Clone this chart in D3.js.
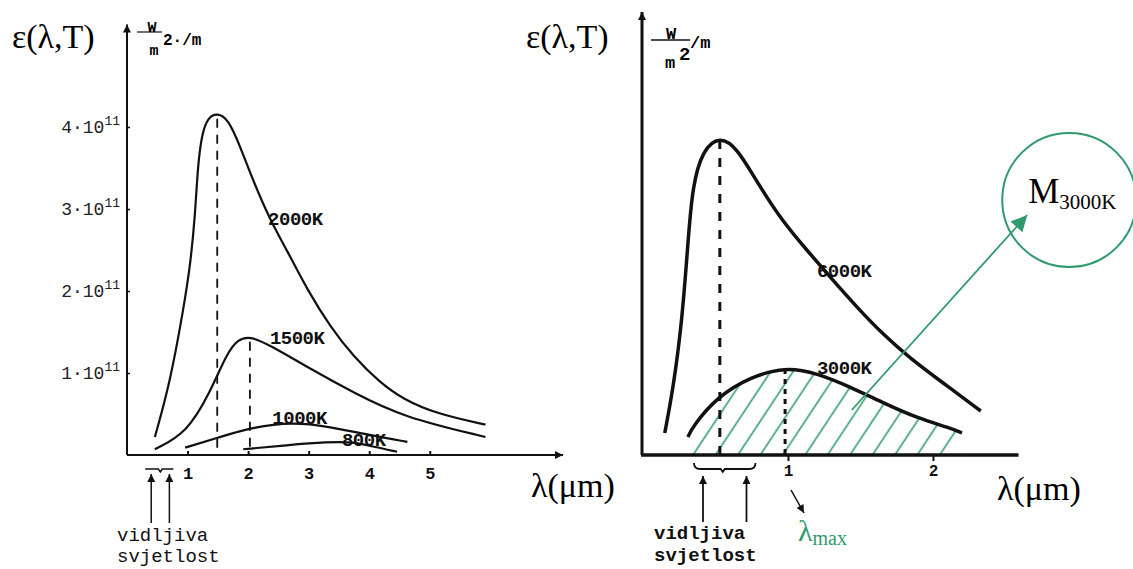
<!DOCTYPE html>
<html>
<head>
<meta charset="utf-8">
<script src="https://cdn.jsdelivr.net/npm/d3@7"></script>
<style>
  body { margin: 0; background: #fff; }
  svg { display: block; }
  .mono { font-family: "Liberation Mono", "Courier New", monospace; }
  .serif { font-family: "Liberation Serif", "Times New Roman", serif; }
</style>
</head>
<body>
<svg id="chart" width="1133" height="569"></svg>
<script>
/* Left panel: wavelength in um, exitance in 1e11 W/m^2/m */
const curve2000 = [[0.46,0.22],[0.71,0.88],[0.93,1.77],[1.04,2.29],[1.12,2.87],[1.17,3.54],[1.24,3.93],
    [1.34,4.12],[1.49,4.17],[1.67,4.10],[1.87,3.76],[2.08,3.35],[2.36,2.87],[2.64,2.50],[2.98,2.01],
    [3.36,1.56],[3.74,1.20],[4.18,0.88],[4.56,0.68],[5.12,0.50],[5.92,0.37]];
const curve1500 = [[0.46,0.07],[0.99,0.27],[1.37,0.76],[1.65,1.24],[1.83,1.41],[2.03,1.45],[2.36,1.34],
    [2.98,1.07],[3.74,0.76],[4.56,0.46],[5.92,0.22]];
const curve1000 = [[0.96,0.09],[1.54,0.22],[2.08,0.34],[2.74,0.40],[3.31,0.35],[4.02,0.24],[4.63,0.16]];
const curve800 = [[1.92,0.07],[2.64,0.12],[3.31,0.16],[3.74,0.16],[4.07,0.10],[4.46,0.04]];
const peaksLeft = [[1.49,4.15],[2.03,1.43]];
const yTicksLeft = [1, 2, 3, 4];
const xTicksLeft = [1, 2, 3, 4, 5];

/* Right panel: wavelength in um, relative exitance */
const curve6000 = [[0.15,0.22],[0.21,0.68],[0.27,1.35],[0.31,2.12],[0.34,2.68],[0.41,3.05],[0.53,3.19],
    [0.65,3.07],[0.79,2.72],[0.97,2.32],[1.13,2.05],[1.29,1.78],[1.48,1.47],[1.66,1.20],[1.84,0.97],
    [2.07,0.72],[2.33,0.44]];
const curve3000 = [[0.31,0.18],[0.34,0.28],[0.51,0.58],[0.74,0.78],[0.98,0.88],[1.20,0.82],[1.43,0.68],
    [1.66,0.52],[1.89,0.37],[2.12,0.27],[2.20,0.22]];
const peak6000 = [0.53, 3.17];
const peak3000 = [0.98, 0.87];
const xTicksRight = [1, 2];

const visible = [0.4, 0.7];
const green = "#2f9a6b";

const svg = d3.select("#chart");
const defs = svg.append("defs");

function marker(id, color, w, h) {
    defs.append("marker")
        .attr("id", id)
        .attr("viewBox", "0 0 10 10")
        .attr("refX", 10).attr("refY", 5)
        .attr("markerUnits", "userSpaceOnUse")
        .attr("markerWidth", w).attr("markerHeight", h)
        .attr("orient", "auto")
      .append("path")
        .attr("d", "M0,0L10,5L0,10z")
        .attr("fill", color);
}
marker("arrowK", "#111", 11, 8);
marker("arrowG", green, 19, 16);

/**************************************************************************************************/
/* Left panel */
const xL = d3.scaleLinear().domain([0, 7.2]).range([127, 563]);
const yL = d3.scaleLinear().domain([0, 5.25]).range([455, 24.5]);
const lineL = d3.line().x(d => xL(d[0])).y(d => yL(d[1])).curve(d3.curveBasis);

const left = svg.append("g");

left.append("line")
    .attr("x1", xL(0)).attr("y1", yL(0)).attr("x2", xL(0)).attr("y2", yL(5.25))
    .attr("stroke", "#111").attr("stroke-width", 2).attr("marker-end", "url(#arrowK)");
left.append("line")
    .attr("x1", xL(0)).attr("y1", yL(0)).attr("x2", xL(7.2)).attr("y2", yL(0))
    .attr("stroke", "#111").attr("stroke-width", 2).attr("marker-end", "url(#arrowK)");

const yAxisL = left.append("g")
    .attr("transform", `translate(${xL(0)},0)`)
    .call(d3.axisLeft(yL).tickValues(yTicksLeft).tickSize(-3).tickPadding(7).tickSizeOuter(0));
yAxisL.select(".domain").remove();
yAxisL.selectAll("line").attr("stroke", "#111").attr("stroke-width", 1.5);
yAxisL.selectAll("text").each(function(d) {
    const t = d3.select(this).attr("class", "mono").attr("font-size", 18).attr("fill", "#222").text("");
    t.append("tspan").text(d + "\u00b710");
    t.append("tspan").attr("font-size", 13).attr("dy", -8).text("11");
});

const xAxisL = left.append("g")
    .attr("transform", `translate(0,${yL(0)})`)
    .call(d3.axisBottom(xL).tickValues(xTicksLeft).tickSize(-4).tickPadding(12).tickSizeOuter(0));
xAxisL.select(".domain").remove();
xAxisL.selectAll("line").attr("stroke", "#111").attr("stroke-width", 2);
xAxisL.selectAll("text").attr("class", "mono").attr("font-size", 17).attr("font-weight", "bold").attr("fill", "#111");

[curve2000, curve1500, curve1000, curve800].forEach(c => {
    left.append("path").attr("d", lineL(c))
        .attr("fill", "none").attr("stroke", "#111").attr("stroke-width", 2.2);
});

left.selectAll(".peak")
    .data(peaksLeft)
    .join("line")
        .attr("x1", d => xL(d[0])).attr("x2", d => xL(d[0]))
        .attr("y1", d => yL(d[1]) + 4).attr("y2", yL(0))
        .attr("stroke", "#111").attr("stroke-width", 1.8).attr("stroke-dasharray", "9,7");

const labelsLeft = [["2000K", 2.33, 2.80], ["1500K", 2.36, 1.35], ["1000K", 2.40, 0.38], ["800K", 3.55, 0.11]];
left.selectAll(".lbl")
    .data(labelsLeft)
    .join("text")
        .attr("class", "mono")
        .attr("x", d => xL(d[1])).attr("y", d => yL(d[2]))
        .attr("font-size", 19).attr("font-weight", "bold").attr("fill", "#111")
        .attr("letter-spacing", -0.5)
        .text(d => d[0]);

left.append("text").attr("class", "serif").attr("x", 12).attr("y", 48)
    .attr("font-size", 34).attr("fill", "#000").text("\u03b5(\u03bb,T)");
left.append("text").attr("class", "serif").attr("x", 531).attr("y", 497)
    .attr("font-size", 34).attr("fill", "#000").text("\u03bb(\u03bcm)");

// unit W/m^2/m
left.append("line").attr("x1", 137).attr("x2", 162).attr("y1", 32).attr("y2", 32).attr("stroke", "#111").attr("stroke-width", 1.2);
left.append("text").attr("class", "mono").attr("x", 152).attr("y", 32).attr("text-anchor", "middle")
    .attr("font-size", 15).attr("font-weight", "bold").text("W");
left.append("text").attr("class", "mono").attr("x", 154).attr("y", 55).attr("text-anchor", "middle")
    .attr("font-size", 15).attr("font-weight", "bold").text("m");
left.append("text").attr("class", "mono").attr("x", 163).attr("y", 45)
    .attr("font-size", 16).attr("font-weight", "bold").text("2\u00b7/m");

// visible light bracket
left.append("path")
    .attr("d", `M${xL(visible[0]) - 6},${yL(0) + 14}L${(xL(visible[0]) + xL(visible[1])) / 2 - 2},${yL(0) + 14}` +
        `l2,3l2,-3L${xL(visible[1]) + 4},${yL(0) + 14}`)
    .attr("fill", "none").attr("stroke", "#111").attr("stroke-width", 1.5);
left.selectAll(".vis")
    .data(visible)
    .join("line")
        .attr("x1", d => xL(d)).attr("x2", d => xL(d))
        .attr("y1", yL(0) + 68).attr("y2", yL(0) + 19)
        .attr("stroke", "#111").attr("stroke-width", 1.5).attr("marker-end", "url(#arrowK)");
left.append("text").attr("class", "mono").attr("x", 117).attr("y", 541)
    .attr("font-size", 19).attr("fill", "#111").text("vidljiva");
left.append("text").attr("class", "mono").attr("x", 117).attr("y", 562)
    .attr("font-size", 19).attr("fill", "#111").text("svjetlost");

/**************************************************************************************************/
/* Right panel */
const xR = d3.scaleLinear().domain([0, 2.59]).range([643, 1018.5]);
const yR = d3.scaleLinear().domain([0, 4.43]).range([455, 12]);
const lineR = d3.line().x(d => xR(d[0])).y(d => yR(d[1])).curve(d3.curveBasis);
const areaR = d3.area().x(d => xR(d[0])).y0(yR(0)).y1(d => yR(d[1])).curve(d3.curveBasis);

const right = svg.append("g");

// hatch pattern: lines through the axis every 22.4 px, slope ~56.5 deg
const hw = 18.7;
const hatch = defs.append("pattern")
    .attr("id", "hatch")
    .attr("patternUnits", "userSpaceOnUse")
    .attr("width", hw).attr("height", 20)
    .attr("patternTransform", `translate(${xR(0.345)},${yR(0)}) rotate(33.5) translate(${-hw / 2},0)`);
hatch.append("line")
    .attr("x1", hw / 2).attr("x2", hw / 2).attr("y1", -1).attr("y2", 21)
    .attr("stroke", green).attr("stroke-width", 1.6);

right.append("path").attr("d", areaR(curve3000)).attr("fill", "url(#hatch)");

right.append("line")
    .attr("x1", xR(0) - 1).attr("y1", yR(0)).attr("x2", xR(0) - 1).attr("y2", yR(4.43))
    .attr("stroke", "#111").attr("stroke-width", 3).attr("marker-end", "url(#arrowK)");
right.append("line")
    .attr("x1", xR(0) - 2).attr("y1", yR(0)).attr("x2", xR(2.59)).attr("y2", yR(0))
    .attr("stroke", "#111").attr("stroke-width", 3.5);

const xAxisR = right.append("g")
    .attr("transform", `translate(0,${yR(0)})`)
    .call(d3.axisBottom(xR).tickValues(xTicksRight).tickFormat(d3.format("d"))
        .tickSize(6).tickPadding(4).tickSizeOuter(0));
xAxisR.select(".domain").remove();
xAxisR.selectAll("line").attr("stroke", "#111").attr("stroke-width", 2);
xAxisR.selectAll("text").attr("class", "mono").attr("font-size", 16).attr("font-weight", "bold").attr("fill", "#111");

[curve6000, curve3000].forEach(c => {
    right.append("path").attr("d", lineR(c))
        .attr("fill", "none").attr("stroke", "#111").attr("stroke-width", 3.5);
});

right.append("line")
    .attr("x1", xR(peak6000[0])).attr("x2", xR(peak6000[0]))
    .attr("y1", yR(peak6000[1]) + 2).attr("y2", yR(0))
    .attr("stroke", "#111").attr("stroke-width", 3).attr("stroke-dasharray", "9,9");
right.append("line")
    .attr("x1", xR(peak3000[0])).attr("x2", xR(peak3000[0]))
    .attr("y1", yR(peak3000[1]) + 1).attr("y2", yR(0))
    .attr("stroke", "#111").attr("stroke-width", 3).attr("stroke-dasharray", "5,5");

const labelsRight = [["6000K", 1.20, 1.78], ["3000K", 1.20, 0.81]];
right.selectAll(".lbl")
    .data(labelsRight)
    .join("text")
        .attr("class", "mono")
        .attr("x", d => xR(d[1])).attr("y", d => yR(d[2]))
        .attr("font-size", 19).attr("font-weight", "bold").attr("fill", "#111")
        .attr("letter-spacing", -0.5)
        .text(d => d[0]);

right.append("text").attr("class", "serif").attr("x", 526).attr("y", 48)
    .attr("font-size", 34).attr("fill", "#000").text("\u03b5(\u03bb,T)");
right.append("text").attr("class", "serif").attr("x", 997).attr("y", 500)
    .attr("font-size", 34).attr("fill", "#000").text("\u03bb(\u03bcm)");

// unit W/m^2/m
right.append("line").attr("x1", 651).attr("x2", 690).attr("y1", 40).attr("y2", 40).attr("stroke", "#111").attr("stroke-width", 1.5);
right.append("text").attr("class", "mono").attr("x", 671).attr("y", 39).attr("text-anchor", "middle")
    .attr("font-size", 17).attr("font-weight", "bold").text("W");
right.append("text").attr("class", "mono").attr("x", 670).attr("y", 68).attr("text-anchor", "middle")
    .attr("font-size", 17).attr("font-weight", "bold").text("m");
right.append("text").attr("class", "mono").attr("x", 679).attr("y", 60)
    .attr("font-size", 19).attr("font-weight", "bold").text("2");
right.append("text").attr("class", "mono").attr("x", 690).attr("y", 48)
    .attr("font-size", 17).attr("font-weight", "bold").text("/m");

// visible light bracket
right.append("path")
    .attr("d", `M${xR(visible[0]) - 7},${yR(0) + 8}q0,6 6,6L${(xR(visible[0]) + xR(visible[1])) / 2 - 2},${yR(0) + 14}` +
        `l2,3l2,-3L${xR(visible[1]) + 5},${yR(0) + 14}q6,0 6,-6`)
    .attr("fill", "none").attr("stroke", "#111").attr("stroke-width", 1.8);
right.selectAll(".vis")
    .data(visible)
    .join("line")
        .attr("x1", d => xR(d) + 2).attr("x2", d => xR(d) + 2)
        .attr("y1", yR(0) + 67).attr("y2", yR(0) + 21)
        .attr("stroke", "#111").attr("stroke-width", 1.8).attr("marker-end", "url(#arrowK)");
right.append("text").attr("class", "mono").attr("x", 654).attr("y", 539)
    .attr("font-size", 19).attr("font-weight", "bold").attr("fill", "#111").text("vidljiva");
right.append("text").attr("class", "mono").attr("x", 654).attr("y", 561)
    .attr("font-size", 19).attr("font-weight", "bold").attr("fill", "#111").text("svjetlost");

// lambda max pointer
right.append("line")
    .attr("x1", xR(1) + 3).attr("y1", yR(0) + 35).attr("x2", xR(1) + 16).attr("y2", yR(0) + 58)
    .attr("stroke", "#111").attr("stroke-width", 1.5).attr("marker-end", "url(#arrowK)");
const lmax = right.append("text").attr("class", "serif").attr("x", xR(1) + 10).attr("y", 541)
    .attr("font-size", 30).attr("fill", green);
lmax.append("tspan").text("\u03bb");
lmax.append("tspan").attr("font-size", 20).attr("dy", 4).text("max");

// integral M_3000K
const cx = xR(2.94), cy = yR(2.55);
right.append("circle").attr("cx", cx).attr("cy", cy).attr("r", 67)
    .attr("fill", "none").attr("stroke", green).attr("stroke-width", 2);
right.append("line")
    .attr("x1", xR(1.44)).attr("y1", yR(0.45)).attr("x2", xR(2.65)).attr("y2", yR(2.40))
    .attr("stroke", green).attr("stroke-width", 1.8).attr("marker-end", "url(#arrowG)");
const mt = right.append("text").attr("class", "serif").attr("x", cx - 41).attr("y", cy + 3)
    .attr("font-size", 35).attr("fill", "#000");
mt.append("tspan").text("M");
mt.append("tspan").attr("font-size", 21).attr("dy", 6).text("3000K");
</script>
</body>
</html>
